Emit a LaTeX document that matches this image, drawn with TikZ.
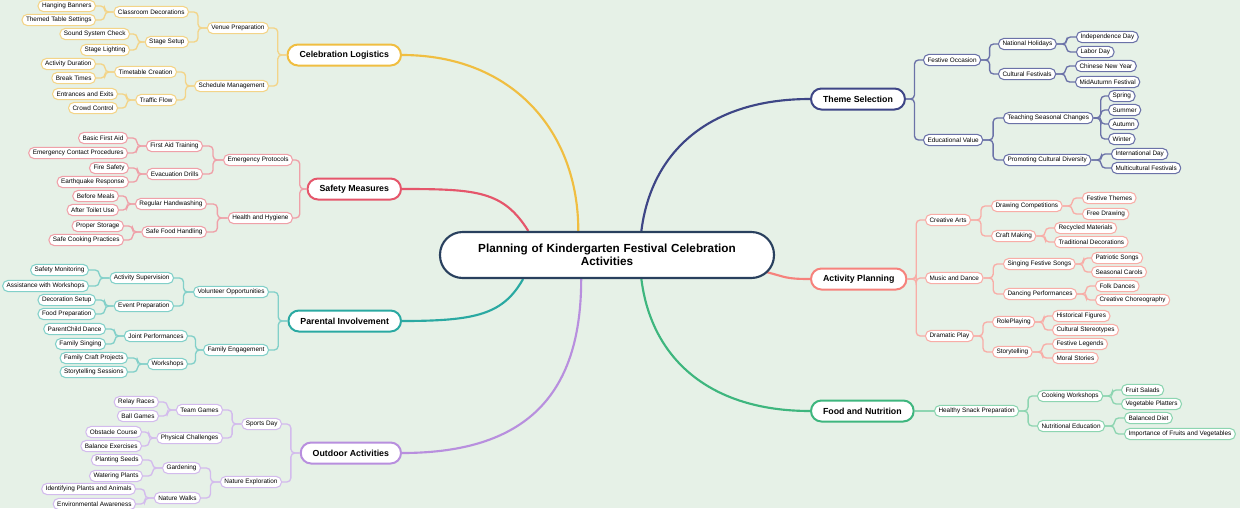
\documentclass[tikz,border=0pt]{standalone}
\usepackage{fontspec}
\setmainfont{Liberation Sans}
\usetikzlibrary{calc, backgrounds}

\definecolor{bgc}{HTML}{E6F1E7}
\definecolor{rootc}{HTML}{29405E}
\definecolor{yl}{HTML}{F0BE41}
\definecolor{ylL}{HTML}{F3D488}
\definecolor{rd}{HTML}{E5566B}
\definecolor{rdL}{HTML}{EFA0A8}
\definecolor{tl}{HTML}{2AA9A2}
\definecolor{tlL}{HTML}{82D0C9}
\definecolor{pu}{HTML}{B88FDE}
\definecolor{puL}{HTML}{D3BBED}
\definecolor{nv}{HTML}{3E4686}
\definecolor{nvL}{HTML}{6B72A8}
\definecolor{sa}{HTML}{F6827C}
\definecolor{saL}{HTML}{F8ADA7}
\definecolor{gr}{HTML}{3EB67E}
\definecolor{grL}{HTML}{8DD5B1}

\tikzstyle{root} = [rectangle, rounded corners=17pt, draw=rootc, line width=1.6pt, fill=white, minimum width=250.5pt, minimum height=34.5pt, text width=230pt, align=center, font=\fontsize{8.8}{10}\selectfont\bfseries]
\tikzstyle{topic} = [rectangle, rounded corners=7.8pt, line width=1.5pt, fill=white, minimum height=15.75pt, inner xsep=9pt, font=\fontsize{6.6}{8}\selectfont\bfseries]
\tikzstyle{item} = [rectangle, rounded corners=4pt, line width=0.8pt, fill=white, minimum height=8.4pt, inner xsep=3pt, inner ysep=0.6pt, font=\fontsize{4.8}{5.6}\selectfont]
\tikzstyle{celitem} = [item, draw=ylL, anchor=east]
\tikzstyle{safitem} = [item, draw=rdL, anchor=east]
\tikzstyle{paritem} = [item, draw=tlL, anchor=east]
\tikzstyle{outitem} = [item, draw=puL, anchor=east]
\tikzstyle{thmitem} = [item, draw=nvL, anchor=west]
\tikzstyle{actitem} = [item, draw=saL, anchor=west]
\tikzstyle{foditem} = [item, draw=grL, anchor=west]
\tikzstyle{lk} = [line width=1pt, rounded corners=3pt]
\tikzstyle{trunk} = [line width=1.6pt]

\begin{document}
\begin{tikzpicture}[x=0.75pt, y=-0.75pt]
\useasboundingbox (0,0) rectangle (1240,508);

\node (root) [root] at (607,255) {Planning of Kindergarten Festival Celebration\\Activities};

% left: celebration logistics
\node (logist) [topic, draw=yl, anchor=east] at (402,55) {Celebration Logistics};
\node (venue) [celitem] at (269,28) {Venue Preparation};
\node (sched) [celitem] at (269,86) {Schedule Management};
\node (decor) [celitem] at (189,12) {Classroom Decorations};
\node (stage) [celitem] at (189,42) {Stage Setup};
\node (timet) [celitem] at (177,72) {Timetable Creation};
\node (traffic) [celitem] at (177,100) {Traffic Flow};
\node (banners) [celitem] at (96,6) {Hanging Banners};
\node (tables) [celitem] at (96,20) {Themed Table Settings};
\node (sound) [celitem] at (130,34) {Sound System Check};
\node (lights) [celitem] at (130,50) {Stage Lighting};
\node (duration) [celitem] at (96,64) {Activity Duration};
\node (breaks) [celitem] at (96,78) {Break Times};
\node (exits) [celitem] at (118,94) {Entrances and Exits};
\node (crowd) [celitem] at (118,108) {Crowd Control};

% left: safety measures
\node (safety) [topic, draw=rd, anchor=east] at (402,189) {Safety Measures};
\node (emerg) [safitem] at (293,160) {Emergency Protocols};
\node (hygiene) [safitem] at (293,218) {Health and Hygiene};
\node (firstaid) [safitem] at (203,146) {First Aid Training};
\node (evac) [safitem] at (203,174) {Evacuation Drills};
\node (handwash) [safitem] at (207,204) {Regular Handwashing};
\node (foodsafe) [safitem] at (207,232) {Safe Food Handling};
\node (basicaid) [safitem] at (128,138) {Basic First Aid};
\node (contacts) [safitem] at (128,153) {Emergency Contact Procedures};
\node (fire) [safitem] at (129,168) {Fire Safety};
\node (quake) [safitem] at (129,182) {Earthquake Response};
\node (meals) [safitem] at (119,196) {Before Meals};
\node (toilet) [safitem] at (119,210) {After Toilet Use};
\node (storage) [safitem] at (124,226) {Proper Storage};
\node (cooking) [safitem] at (124,240) {Safe Cooking Practices};

% left: parental involvement
\node (parents) [topic, draw=tl, anchor=east] at (402,321) {Parental Involvement};
\node (volunteer) [paritem] at (269,292) {Volunteer Opportunities};
\node (family) [paritem] at (269,350) {Family Engagement};
\node (supervise) [paritem] at (174,278) {Activity Supervision};
\node (eventprep) [paritem] at (174,306) {Event Preparation};
\node (perform) [paritem] at (188,336) {Joint Performances};
\node (workshops) [paritem] at (188,364) {Workshops};
\node (monitor) [paritem] at (89,270) {Safety Monitoring};
\node (assist) [paritem] at (89,286) {Assistance with Workshops};
\node (decosetup) [paritem] at (96,300) {Decoration Setup};
\node (foodprep) [paritem] at (96,314) {Food Preparation};
\node (pcdance) [paritem] at (106,329) {ParentChild Dance};
\node (singing) [paritem] at (106,344) {Family Singing};
\node (crafts) [paritem] at (128,358) {Family Craft Projects};
\node (stories) [paritem] at (128,372) {Storytelling Sessions};

% left: outdoor activities
\node (outdoor) [topic, draw=pu, anchor=east] at (402,453) {Outdoor Activities};
\node (sports) [outitem] at (282,424) {Sports Day};
\node (nature) [outitem] at (282,482) {Nature Exploration};
\node (teams) [outitem] at (223,410) {Team Games};
\node (physical) [outitem] at (223,438) {Physical Challenges};
\node (garden) [outitem] at (201,468) {Gardening};
\node (walks) [outitem] at (201,498) {Nature Walks};
\node (relay) [outitem] at (159,402) {Relay Races};
\node (ball) [outitem] at (159,416) {Ball Games};
\node (obstacle) [outitem] at (142,432) {Obstacle Course};
\node (balance) [outitem] at (142,446) {Balance Exercises};
\node (seeds) [outitem] at (143,460) {Planting Seeds};
\node (watering) [outitem] at (143,476) {Watering Plants};
\node (identify) [outitem] at (136,489) {Identifying Plants and Animals};
\node (environ) [outitem] at (136,504) {Environmental Awareness};

% right: theme selection
\node (theme) [topic, draw=nv, anchor=west] at (810,99) {Theme Selection};
\node (festive) [thmitem] at (923,60) {Festive Occasion};
\node (eduval) [thmitem] at (923,140) {Educational Value};
\node (national) [thmitem] at (998,44) {National Holidays};
\node (cultural) [thmitem] at (998,74) {Cultural Festivals};
\node (seasons) [thmitem] at (1003,118) {Teaching Seasonal Changes};
\node (diversity) [thmitem] at (1003,160) {Promoting Cultural Diversity};
\node (independence) [thmitem] at (1076,37) {Independence Day};
\node (labor) [thmitem] at (1076,52) {Labor Day};
\node (cny) [thmitem] at (1075,66) {Chinese New Year};
\node (midautumn) [thmitem] at (1075,82) {MidAutumn Festival};
\node (spring) [thmitem] at (1108,96) {Spring};
\node (summer) [thmitem] at (1108,110) {Summer};
\node (autumn) [thmitem] at (1108,124) {Autumn};
\node (winter) [thmitem] at (1108,139) {Winter};
\node (intlday) [thmitem] at (1111,154) {International Day};
\node (multicult) [thmitem] at (1111,168) {Multicultural Festivals};

% right: activity planning
\node (activity) [topic, draw=sa, anchor=west] at (810,279) {Activity Planning};
\node (arts) [actitem] at (925,220) {Creative Arts};
\node (music) [actitem] at (925,278) {Music and Dance};
\node (drama) [actitem] at (925,336) {Dramatic Play};
\node (drawing) [actitem] at (991,206) {Drawing Competitions};
\node (craftmk) [actitem] at (991,236) {Craft Making};
\node (songs) [actitem] at (1003,264) {Singing Festive Songs};
\node (dancing) [actitem] at (1003,294) {Dancing Performances};
\node (roleplay) [actitem] at (992,322) {RolePlaying};
\node (storytell) [actitem] at (992,352) {Storytelling};
\node (themes) [actitem] at (1082,198) {Festive Themes};
\node (freedraw) [actitem] at (1082,214) {Free Drawing};
\node (recycled) [actitem] at (1054,228) {Recycled Materials};
\node (tradition) [actitem] at (1054,242) {Traditional Decorations};
\node (patriotic) [actitem] at (1091,258) {Patriotic Songs};
\node (carols) [actitem] at (1091,272) {Seasonal Carols};
\node (folk) [actitem] at (1095,286) {Folk Dances};
\node (choreo) [actitem] at (1095,300) {Creative Choreography};
\node (historic) [actitem] at (1052,316) {Historical Figures};
\node (stereo) [actitem] at (1052,330) {Cultural Stereotypes};
\node (legends) [actitem] at (1052,344) {Festive Legends};
\node (moral) [actitem] at (1052,358) {Moral Stories};

% right: food and nutrition
\node (food) [topic, draw=gr, anchor=west] at (810,411) {Food and Nutrition};
\node (snack) [foditem] at (934,411) {Healthy Snack Preparation};
\node (cookws) [foditem] at (1037,396) {Cooking Workshops};
\node (nutrit) [foditem] at (1037,426) {Nutritional Education};
\node (salads) [foditem] at (1121,390) {Fruit Salads};
\node (platters) [foditem] at (1121,404) {Vegetable Platters};
\node (diet) [foditem] at (1124,418) {Balanced Diet};
\node (fruitveg) [foditem] at (1124,434) {Importance of Fruits and Vegetables};

% elbow links, left side
\foreach \p/\c/\k in {logist/venue/ylL, logist/sched/ylL, venue/decor/ylL, venue/stage/ylL, sched/timet/ylL, sched/traffic/ylL,
  decor/banners/ylL, decor/tables/ylL, stage/sound/ylL, stage/lights/ylL, timet/duration/ylL, timet/breaks/ylL, traffic/exits/ylL, traffic/crowd/ylL,
  safety/emerg/rdL, safety/hygiene/rdL, emerg/firstaid/rdL, emerg/evac/rdL, hygiene/handwash/rdL, hygiene/foodsafe/rdL,
  firstaid/basicaid/rdL, firstaid/contacts/rdL, evac/fire/rdL, evac/quake/rdL, handwash/meals/rdL, handwash/toilet/rdL, foodsafe/storage/rdL, foodsafe/cooking/rdL,
  parents/volunteer/tlL, parents/family/tlL, volunteer/supervise/tlL, volunteer/eventprep/tlL, family/perform/tlL, family/workshops/tlL,
  supervise/monitor/tlL, supervise/assist/tlL, eventprep/decosetup/tlL, eventprep/foodprep/tlL, perform/pcdance/tlL, perform/singing/tlL, workshops/crafts/tlL, workshops/stories/tlL,
  outdoor/sports/puL, outdoor/nature/puL, sports/teams/puL, sports/physical/puL, nature/garden/puL, nature/walks/puL,
  teams/relay/puL, teams/ball/puL, physical/obstacle/puL, physical/balance/puL, garden/seeds/puL, garden/watering/puL, walks/identify/puL, walks/environ/puL}
  \draw[lk, \k] (\p.west) -- ($(\p.west)!0.5!(\p.west -| \c.east)$) |- (\c.east);

% elbow links, right side
\foreach \p/\c/\k in {theme/festive/nvL, theme/eduval/nvL, festive/national/nvL, festive/cultural/nvL, eduval/seasons/nvL, eduval/diversity/nvL,
  national/independence/nvL, national/labor/nvL, cultural/cny/nvL, cultural/midautumn/nvL, seasons/spring/nvL, seasons/summer/nvL, seasons/autumn/nvL, seasons/winter/nvL,
  diversity/intlday/nvL, diversity/multicult/nvL,
  activity/arts/saL, activity/music/saL, activity/drama/saL, arts/drawing/saL, arts/craftmk/saL, music/songs/saL, music/dancing/saL, drama/roleplay/saL, drama/storytell/saL,
  drawing/themes/saL, drawing/freedraw/saL, craftmk/recycled/saL, craftmk/tradition/saL, songs/patriotic/saL, songs/carols/saL, dancing/folk/saL, dancing/choreo/saL,
  roleplay/historic/saL, roleplay/stereo/saL, storytell/legends/saL, storytell/moral/saL,
  snack/cookws/grL, snack/nutrit/grL, cookws/salads/grL, cookws/platters/grL, nutrit/diet/grL, nutrit/fruitveg/grL}
  \draw[lk, \k] (\p.east) -- ($(\p.east)!0.5!(\p.east -| \c.west)$) |- (\c.west);
\draw[lk, grL] (food.east) -- (snack.west);

\begin{pgfonlayer}{background}
\fill[bgc] (0,0) rectangle (1240,508);
% main branches from the root
\draw[trunk, yl] (logist.east) .. controls +(110,0) and +(0,-100) .. (root.140);
\draw[trunk, rd] (safety.east) .. controls +(75,0) and +(-25,-40) .. (root.163);
\draw[trunk, tl] (parents.east) .. controls +(75,0) and +(-20,35) .. (root.196);
\draw[trunk, pu] (outdoor.east) .. controls +(130,0) and +(0,110) .. (root.223);
\draw[trunk, nv] (theme.west) .. controls +(-100,0) and +(10,-80) .. (root.35);
\draw[trunk, sa] (activity.west) .. controls +(-25,0) and +(20,5) .. ($(root.east)+(-9,17)$);
\draw[trunk, gr] (food.west) .. controls +(-100,0) and +(10,80) .. (root.325);
\end{pgfonlayer}
\end{tikzpicture}
\end{document}
